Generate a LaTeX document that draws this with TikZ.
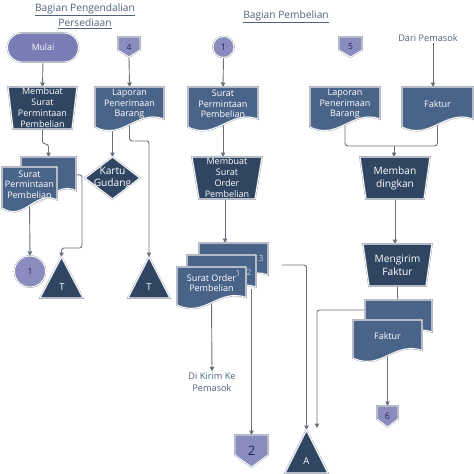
\documentclass[tikz,border=0pt]{standalone}
\usepackage{fontspec}
\setmainfont{Open Sans}
\usetikzlibrary{arrows.meta,backgrounds,calc}
\definecolor{procfill}{HTML}{2F4562}
\definecolor{docfill}{HTML}{4A6489}
\definecolor{lav}{HTML}{8A8CC0}
\definecolor{lavdark}{HTML}{7A7CB6}
\definecolor{edgecol}{HTML}{8C96A8}
\definecolor{conncol}{HTML}{6B717C}
\definecolor{labelcol}{HTML}{52617E}
\definecolor{navy}{HTML}{1C2550}
\definecolor{numcol}{HTML}{C5CAE0}
\tikzset{
  shapeline/.style={draw=edgecol, double=white, double distance=0.9pt, line width=0.35pt},
  docshape/.style={shapeline, fill=docfill},
  procshape/.style={shapeline, fill=procfill},
  lavshape/.style={shapeline, fill=lav},
  doctext/.style={text=white, align=center, inner sep=0pt, outer sep=0pt, font=\fontsize{9}{10.5}\selectfont},
  proctext/.style={text=white, align=center, inner sep=0pt, outer sep=0pt, font=\fontsize{9}{11}\selectfont},
  bigproctext/.style={proctext, font=\fontsize{10.2}{13}\selectfont},
  offtext/.style={text=navy, inner sep=0pt, outer sep=0pt, font=\fontsize{8.5}{10}\selectfont},
  tritext/.style={text=white, inner sep=0pt, font=\fontsize{9.5}{10}\selectfont},
  titletext/.style={text=labelcol, inner sep=0pt, font=\fontsize{10.2}{14}\selectfont},
  notetext/.style={text=labelcol, align=center, inner sep=1pt, font=\fontsize{9.2}{12}\selectfont},
  numtext/.style={text=numcol, inner sep=0pt, font=\fontsize{8.5}{10}\selectfont},
  plainline/.style={draw=conncol, line width=0.9pt},
  conn/.style={plainline, -{Triangle[length=4.5pt,width=4.5pt]}},
  circnode/.style={circle, shapeline, fill=lav, text=navy, inner sep=0pt},
  termnode/.style={shapeline, fill=lavdark, rounded corners=14.5pt, text=white, inner sep=0pt,
                   minimum width=71pt, minimum height=29pt, font=\fontsize{8.7}{11}\selectfont},
}
% document shape: name, x0, y0, x1, y1, text
\newcommand\DocNode[6]{%
  \path[docshape] (#2,#3) -- (#4,#3) -- (#4,{#5-0.2*(#5-#3)})
     .. controls ({#2+0.6*(#4-#2)},{#5-0.45*(#5-#3)}) and ({#2+0.4*(#4-#2)},{#5+0.35*(#5-#3)}) .. (#2,#5) -- cycle;
  \node[doctext, minimum width={(#4-#2)*1pt}, minimum height={0.85*(#5-#3)*1pt}] (#1)
     at ({(#2+#4)/2},{#3+0.425*(#5-#3)}) {#6};}
% manual operation: style, name, x0, y0, x1, y1, inset, text
\newcommand\ProcNode[8]{%
  \path[procshape] (#3,#4) -- (#5,#4) -- ({#5-#7},#6) -- ({#3+#7},#6) -- cycle;
  \node[#1, minimum width={(#5-#3)*1pt}, minimum height={(#6-#4)*1pt}] (#2)
     at ({(#3+#5)/2},{(#4+#6)/2}) {#8};}
% off-page connector: name, x0, y0, x1, y1, ymid, text, font
\newcommand\OffPage[8]{%
  \path[lavshape] (#2,#3) -- (#4,#3) -- (#4,#6) -- ({(#2+#4)/2},#5) -- (#2,#6) -- cycle;
  \node[offtext, font=#8, minimum width={(#4-#2)*1pt}, minimum height={(#5-#3)*1pt}] (#1)
     at ({(#2+#4)/2},{(#3+#5)/2}) {#7};}
% triangle: name, apex x, apex y, half width, height
\newcommand\TriNode[5]{%
  \path[procshape] (#2,#3) -- ({#2+#4},{#3+#5}) -- ({#2-#4},{#3+#5}) -- cycle;
  \coordinate (#1) at (#2,#3);}
\begin{document}
\begin{tikzpicture}[x=1pt,y=-1pt]
\useasboundingbox (0,0) rectangle (474,474);
% titles
\node[titletext] (title1) at (85,9.5) {\underline{Bagian Pengendalian}};
\node[titletext] (title2) at (85,23.5) {\underline{Persediaan}};
\node[titletext] (title3) at (286,17) {\underline{Bagian Pembelian}};

% ---------- column 1
\node[termnode] (mulai) at (43,47.5) {Mulai};
\ProcNode{proctext}{p1}{8}{87}{77}{129}{5}{Membuat\\Surat\\Permintaan\\Pembelian}
\DocNode{d1b}{21}{157}{76}{199}{}
\DocNode{d1f}{2}{167}{57}{208}{Surat\\Permintaan\\Pembelian}
\node[circnode, minimum size=31pt, font=\fontsize{8.5}{10}\selectfont] (c1b) at (30,271.5) {1};
\TriNode{t1}{61.5}{257}{21.5}{41}
\node[tritext] (t1lab) at (62,287) {T};

% ---------- column 2
\OffPage{o4}{118}{37}{140}{57}{50}{4}{\fontsize{8.5}{10}\selectfont}
\DocNode{d2}{95}{87}{164}{127}{Laporan\\Penerimaan\\Barang}
\path[procshape] (112.5,157) -- (140,178) -- (112.5,199) -- (85,178) -- cycle;
\node[proctext, font=\fontsize{10.2}{11.5}\selectfont, minimum width=55pt, minimum height=42pt] (kartu) at (112.5,178) {Kartu\\Gudang};
\TriNode{t2}{149}{257}{21}{41}
\node[tritext] (t2lab) at (149,287) {T};

% ---------- column 3
\node[circnode, minimum size=21pt, font=\fontsize{9}{11}\selectfont] (c1t) at (223.5,47) {1};
\DocNode{d3}{188}{87}{258}{127}{Surat\\Permintaan\\Pembelian}
\ProcNode{proctext}{p2}{192}{157}{262}{199}{7}{Membuat\\Surat\\Order\\Pembelian}
\DocNode{s3}{199}{243}{268}{283}{}
\DocNode{s2}{187}{255}{256}{295}{}
\DocNode{s1}{177}{267}{246}{305}{Surat Order\\Pembelian}
\node[numtext] (n1) at (238,273) {1};
\node[numtext] (n2) at (249,272) {2};
\node[numtext] (n3) at (261,258) {3};
\node[notetext] (kirim) at (212,382) {Di Kirim Ke\\Pemasok};
\OffPage{o2}{235}{435}{268}{467}{455}{2}{\fontsize{13}{15}\selectfont}
\TriNode{ta}{306.5}{430}{21.5}{43}
\node[tritext] (talab) at (306.5,461) {A};

% ---------- column 4
\OffPage{o5}{339}{37}{362}{57}{50}{5}{\fontsize{8.5}{10}\selectfont}
\node[notetext] (dari) at (428,38) {Dari Pemasok};
\DocNode{d4}{310}{87}{380}{127}{Laporan\\Penerimaan\\Barang}
\DocNode{d5}{402}{87}{473}{127}{Faktur}
\ProcNode{bigproctext}{p3}{360}{157}{430}{199}{6}{Memban\\dingkan}
\ProcNode{bigproctext}{p4}{363}{244}{432}{286}{6}{Mengirim\\Faktur}
\DocNode{f2}{365}{300}{432}{340}{}
\DocNode{f1}{353}{320}{422}{358}{Faktur}
\OffPage{o6}{377}{406}{398}{427}{419}{6}{\fontsize{9}{11}\selectfont}

% ---------- connectors
\begin{pgfonlayer}{background}
\draw[conn] (mulai.south) -- (p1.north);
\draw[conn, rounded corners=3pt] (p1.south) -- ++(0,15) -| (d1b.north);
\draw[conn] (d1f.south) -- (c1b.north);
\coordinate (j1) at (82,248);
\draw[conn, rounded corners=2.5pt] (d1b.east) -| (j1) -| (t1);

\draw[conn] (o4.south) -- (d2.north);
\draw[conn] (d2.south -| kartu.north) -- (kartu.north);
\coordinate (j2) at (149,141);
\draw[conn, rounded corners=2.5pt] (d2.south) |- (j2) -- (t2);

\draw[conn] (c1t.south) -- (d3.north);
\draw[conn] (d3.south) -- (d3.south |- p2.north);
\draw[conn] ([xshift=-2pt]p2.south) -- ([xshift=-2pt]p2.south |- s3.north);
\draw[conn] (s1.south) -- (kirim.north);
\draw[conn] (s2.south -| o2.north) -- (o2.north);
\coordinate (a0) at (282,265);
\draw[conn, rounded corners=2.5pt] (a0) -| (ta);

\coordinate (m1) at (394,146);
\draw[plainline, rounded corners=3pt] (d4.south) |- (m1);
\draw[plainline, rounded corners=3pt] (d5.south) |- (m1);
\draw[conn] (m1) -- (m1 |- p3.north);
\draw[conn] ([xshift=5pt]dari.south) -- ([xshift=5pt]dari.south |- d5.north);
\draw[conn] (p3.south) -- (p3.south |- p4.north);
\draw[plainline] (p4.south) -- (p4.south |- f2.north);
\coordinate (a1) at (317,428);
\draw[conn, rounded corners=2.5pt] ($(f2.north west)+(0,10)$) -| (a1);
\draw[conn] (f1.south) -- (o6.north);
\end{pgfonlayer}
\end{tikzpicture}
\end{document}
